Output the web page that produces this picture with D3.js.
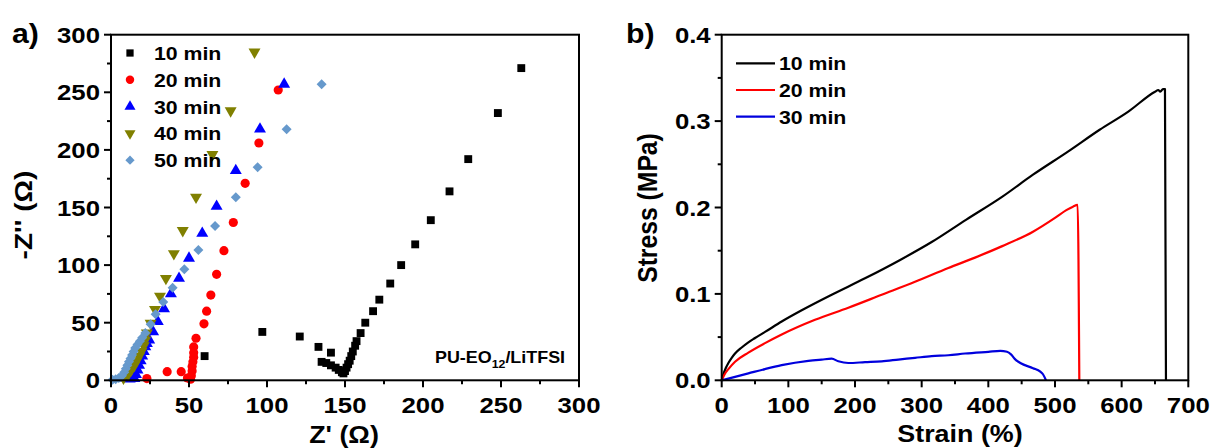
<!DOCTYPE html>
<html>
<head>
<meta charset="utf-8">
<script src="https://cdn.jsdelivr.net/npm/d3@7"></script>
<style>
  body { margin: 0; background: #fff; }
  svg text { font-family: "Liberation Sans", Arial, sans-serif; font-weight: bold; fill: #000; }
</style>
</head>
<body>
<svg id="chart" width="1213" height="448"></svg>
<script>
// ---- panel a : Nyquist plots [Z', -Z''] ----
var min10 = [[60,21],[97,42],[121,38],[133,29],[141,24],[135,16],[138,15],[141,13],[144,11],[146,9],[148,7],[149,6],
  [150,8],[151,11],[152,14],[153,17],[154,21],[155,25],[156.5,30],[157.4,34],[160,41],[163,50],[168,60],[172,70],
  [179,84],[186,100],[195,118],[205,139],[217,164],[229,192],[248,232],[263,271]];
var min20 = [[23,1.5],[36,7.5],[45,7.5],[49,2],[51,1],[51.5,4],[52,8],[52,12],[52.5,16],[53,20],[53,24],[53,29],
  [54.5,36.5],[59.6,49],[61.3,60],[64,74],[67.7,92],[72.4,112.5],[78.4,137],[86,171],[94.8,206],[107.2,252]];
var min30 = [[7,2],[12,1],[15,1.5],[16,5],[17,9],[18,13],[19,17],[20,21],[21,25],[22,29],[23,32],[24.5,35],
  [27,42],[30,51],[34,62],[38.4,75],[43.6,88.5],[50,106],[58.5,127.6],[67.7,151],[80,182],[95.5,218],[111,257]];
var min40 = [[8,2],[11,5],[13,9],[15,13],[16.5,17],[18,21],[19.5,25],[21,30],[22,35],[23,41],[25.4,49.5],
  [28.2,61.6],[31.4,73],[35.2,88.5],[40.3,110],[46,130],[54.5,159],[65,196],[76.7,234],[92,285]];
var min50 = [[1,0.5],[3,1],[5,2],[7,4],[8.5,7],[9.5,10],[10.5,13],[11.5,16],[12.5,19],[13.5,22],[14.5,25],
  [15.5,28],[17,31],[18.5,34],[20,37],[22,41],[25.4,48.6],[28.6,57.3],[33.5,68],[39.5,80.4],[47,96.4],
  [56,113],[66.7,134],[80,159],[94,185],[112.6,218],[135,257]];
var nyqNames = ["10 min", "20 min", "30 min", "40 min", "50 min"];
var nyqTicksX = [0, 50, 100, 150, 200, 250, 300];
var nyqTicksY = [0, 50, 100, 150, 200, 250, 300];

// ---- panel b : stress-strain [strain %, stress MPa] ----
var curve10 = [[0,0],[3,0.008],[6,0.014],[10,0.020],[15,0.026],[20,0.031],[30,0.038],[40,0.044],[50,0.049],
  [65,0.056],[90,0.068],[120,0.081],[165,0.099],[215,0.118],[267,0.139],[315,0.160],[367,0.186],[420,0.212],
  [467,0.238],[520,0.265],[567,0.290],[610,0.311],[650,0.334],[655,0.336],[658,0.334],[662,0.337],[665,0.337],[666.5,0]];
var curve20 = [[0,0],[3,0.005],[6,0.009],[10,0.013],[20,0.0215],[40,0.032],[65,0.043],[90,0.053],[140,0.070],
  [190,0.084],[240,0.099],[290,0.114],[340,0.130],[380,0.142],[420,0.155],[467,0.172],[500,0.188],[517,0.197],
  [527,0.201],[534,0.203],[536.5,0]];
var curve30 = [[0,0],[20,0.004],[40,0.008],[65,0.013],[90,0.0175],[130,0.0225],[150,0.024],[165,0.025],[175,0.022],
  [190,0.020],[215,0.021],[240,0.022],[265,0.024],[290,0.026],[315,0.028],[340,0.029],[365,0.031],[400,0.033],
  [418,0.034],[428,0.033],[434,0.030],[440,0.0245],[448,0.020],[467,0.014],[478,0.010],[482,0.007],[486.5,0]];
var ssNames = ["10 min", "20 min", "30 min"];
var ssTicksX = [0, 100, 200, 300, 400, 500, 600, 700];
var ssTicksY = [0, 0.1, 0.2, 0.3, 0.4];

var svg = d3.select("#chart");
var SX = 1.12; // glyphs in the picture are a bit wider than the font

function txt(g, x, y, str, size, anchor) {
  return g.append("text").attr("transform", "translate(" + x + "," + y + ") scale(" + SX + ",1)")
    .attr("text-anchor", anchor || "start").style("font-size", size + "px").text(str);
}

function frame(g, x, y, majorX, majorY, minorX, minorY, fmtY) {
  var x0 = x.range()[0], x1 = x.range()[1], y0 = y.range()[0], y1 = y.range()[1];
  g.append("rect").attr("x", x0).attr("y", y1).attr("width", x1 - x0).attr("height", y0 - y1)
    .attr("fill", "none").attr("stroke", "#000").attr("stroke-width", 2);
  g.selectAll(".mx").data(minorX).enter().append("line")
    .attr("x1", d => x(d)).attr("x2", d => x(d)).attr("y1", y0).attr("y2", y0 + 4)
    .attr("stroke", "#000").attr("stroke-width", 2);
  g.selectAll(".my").data(minorY).enter().append("line")
    .attr("y1", d => y(d)).attr("y2", d => y(d)).attr("x1", x0).attr("x2", x0 - 4)
    .attr("stroke", "#000").attr("stroke-width", 2);
  g.selectAll(".tx").data(majorX).enter().append("line")
    .attr("x1", d => x(d)).attr("x2", d => x(d)).attr("y1", y0).attr("y2", y0 + 7)
    .attr("stroke", "#000").attr("stroke-width", 2);
  g.selectAll(".ty").data(majorY).enter().append("line")
    .attr("y1", d => y(d)).attr("y2", d => y(d)).attr("x1", x0).attr("x2", x0 - 7)
    .attr("stroke", "#000").attr("stroke-width", 2);
  majorX.forEach(function(d) { txt(g, x(d), y0 + 33, d, 23, "middle"); });
  majorY.forEach(function(d) { txt(g, x0 - 11, y(d) + 8, fmtY(d), 23, "end"); });
}

// ===== panel a =====
var xa = d3.scaleLinear().domain([0, 300]).range([111, 579]);
var ya = d3.scaleLinear().domain([0, 300]).range([380.3, 34.7]);
var ga = svg.append("g");

var markers = [
  {data: min10, color: "#000000", type: d3.symbolSquare, size: 62, rot: 0},
  {data: min20, color: "#ff0000", type: d3.symbolCircle, size: 66, rot: 0},
  {data: min30, color: "#0000ff", type: d3.symbolTriangle, size: 62, rot: 0},
  {data: min40, color: "#808000", type: d3.symbolTriangle, size: 62, rot: 180},
  {data: min50, color: "#6699cc", type: d3.symbolSquare, size: 50, rot: 45}
];
markers.forEach(function(m) {
  ga.append("g").selectAll("path").data(m.data).enter().append("path")
    .attr("d", d3.symbol().type(m.type).size(m.size))
    .attr("transform", d => "translate(" + xa(d[0]) + "," + ya(d[1]) + ") rotate(" + m.rot + ")")
    .attr("fill", m.color);
});

frame(ga, xa, ya, nyqTicksX, nyqTicksY,
  d3.range(25, 300, 50), d3.range(25, 300, 50), d => d);

// legend a
markers.forEach(function(m, i) {
  var ly = 53 + i * 26.8;
  ga.append("path").attr("d", d3.symbol().type(m.type).size(m.size * 0.85))
    .attr("transform", "translate(130," + ly + ") rotate(" + m.rot + ")").attr("fill", m.color);
  txt(ga, 154, ly + 7, nyqNames[i], 19);
});

var anno = txt(ga, 435, 363, "", 16);
anno.append("tspan").text("PU-EO");
anno.append("tspan").attr("dy", 5).style("font-size", "11px").text("12");
anno.append("tspan").attr("dy", -5).text("/LiTFSI");

txt(ga, 12, 43, "a)", 27);
txt(ga, 344, 443, "Z' (\u03A9)", 24, "middle");
ga.append("text").attr("transform", "translate(32,215) rotate(-90) scale(1.17,1)").attr("text-anchor", "middle")
  .style("font-size", "24px").text("-Z'' (\u03A9)");

// ===== panel b =====
var xb = d3.scaleLinear().domain([0, 700]).range([721.7, 1188.3]);
var yb = d3.scaleLinear().domain([0, 0.4]).range([380.3, 34.7]);
var gb = svg.append("g");
var line = d3.line().x(d => xb(d[0])).y(d => yb(d[1])).curve(d3.curveMonotoneX);
var curves = [
  {data: curve10, color: "#000000"},
  {data: curve20, color: "#ff0000"},
  {data: curve30, color: "#0000dd"}
];
curves.forEach(function(c) {
  gb.append("path").datum(c.data).attr("d", line).attr("fill", "none")
    .attr("stroke", c.color).attr("stroke-width", 2.2).attr("stroke-linejoin", "round");
});

frame(gb, xb, yb, ssTicksX, ssTicksY,
  d3.range(50, 700, 100), [0.05, 0.15, 0.25, 0.35], d => d.toFixed(1));

curves.forEach(function(c, i) {
  var ly = 63.3 + i * 26.7;
  gb.append("line").attr("x1", 736).attr("x2", 775).attr("y1", ly).attr("y2", ly)
    .attr("stroke", c.color).attr("stroke-width", 2.2);
  txt(gb, 779, ly + 7, ssNames[i], 19);
});

txt(gb, 626, 43, "b)", 27);
txt(gb, 960, 442, "Strain (%)", 24, "middle");
gb.append("text").attr("transform", "translate(657,208) rotate(-90) scale(1.03,1.12)").attr("text-anchor", "middle")
  .style("font-size", "24px").text("Stress (MPa)");
</script>
</body>
</html>
